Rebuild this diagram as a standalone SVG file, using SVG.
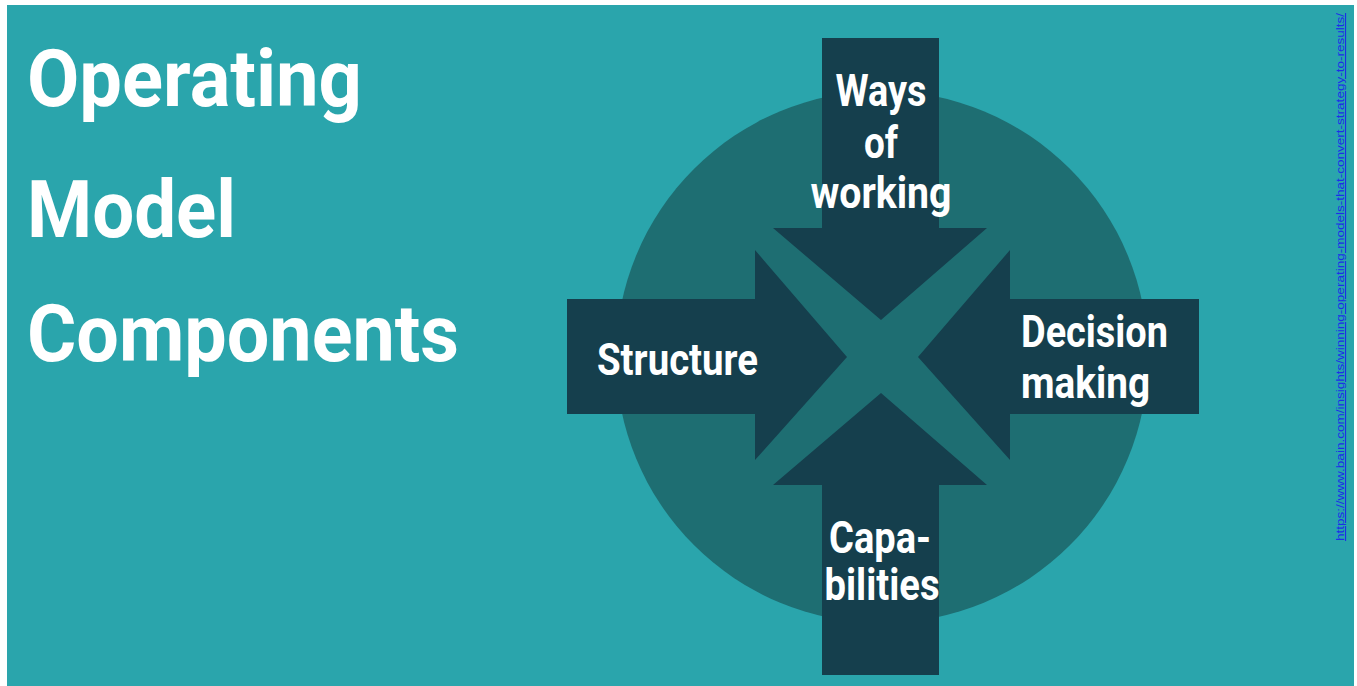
<svg xmlns="http://www.w3.org/2000/svg" width="1357" height="686" viewBox="0 0 1357 686">
  <style>
    .title { font-family: Roboto, "Liberation Sans", sans-serif; font-weight: 700; font-size: 80px; fill: #ffffff; }
    .label { font-family: Roboto, "Liberation Sans", sans-serif; font-weight: 700; font-size: 44px; fill: #ffffff; }
    .arrow { fill: #153f4d; }
    .link { font-family: "Liberation Sans", Arial, sans-serif; font-size: 11px; fill: #1c2ee8; text-decoration: underline; }
  </style>

  <!-- page and slide background -->
  <rect x="0" y="0" width="1357" height="686" fill="#ffffff"/>
  <rect x="7" y="5" width="1347" height="681" fill="#2aa5ac"/>

  <!-- title -->
  <g id="title">
    <text class="title" x="27" y="106" textLength="335" lengthAdjust="spacingAndGlyphs">Operating</text>
    <text class="title" x="27" y="237" textLength="209" lengthAdjust="spacingAndGlyphs">Model</text>
    <text class="title" x="27" y="361" textLength="432" lengthAdjust="spacingAndGlyphs">Components</text>
  </g>

  <!-- backdrop disc -->
  <g id="disc">
    <circle cx="882" cy="357" r="266" fill="#1e6e72"/>
  </g>

  <!-- four arrows converging on the centre -->
  <g id="ways-of-working">
    <path class="arrow" d="M822,38 L939,38 L939,228 L987,228 L881,320 L773,228 L822,228 Z"/>
    <text class="label" x="881" y="106" text-anchor="middle" textLength="91" lengthAdjust="spacingAndGlyphs">Ways</text>
    <text class="label" x="881" y="158" text-anchor="middle" textLength="34" lengthAdjust="spacingAndGlyphs">of</text>
    <text class="label" x="881" y="208" text-anchor="middle" textLength="141" lengthAdjust="spacingAndGlyphs">working</text>
  </g>

  <g id="structure">
    <path class="arrow" d="M567,299 L755,299 L755,250 L847,357 L755,460 L755,414 L567,414 Z"/>
    <text class="label" x="597" y="375" textLength="161" lengthAdjust="spacingAndGlyphs">Structure</text>
  </g>

  <g id="decision-making">
    <path class="arrow" d="M1199,299 L1010,299 L1010,250 L918,357 L1010,460 L1010,414 L1199,414 Z"/>
    <text class="label" x="1021" y="347" textLength="147" lengthAdjust="spacingAndGlyphs">Decision</text>
    <text class="label" x="1021" y="398" textLength="129" lengthAdjust="spacingAndGlyphs">making</text>
  </g>

  <g id="capabilities">
    <path class="arrow" d="M822,675 L939,675 L939,485 L987,485 L881,393 L773,485 L822,485 Z"/>
    <text class="label" x="880" y="553" text-anchor="middle" textLength="102" lengthAdjust="spacingAndGlyphs">Capa-</text>
    <text class="label" x="882" y="600" text-anchor="middle" textLength="115" lengthAdjust="spacingAndGlyphs">bilities</text>
  </g>

  <!-- source link, running up the right margin -->
  <g id="source">
    <text class="link" transform="translate(1344,541) rotate(-90)" textLength="528" lengthAdjust="spacingAndGlyphs">https://www.bain.com/insights/winning-operating-models-that-convert-strategy-to-results/</text>
  </g>
</svg>
